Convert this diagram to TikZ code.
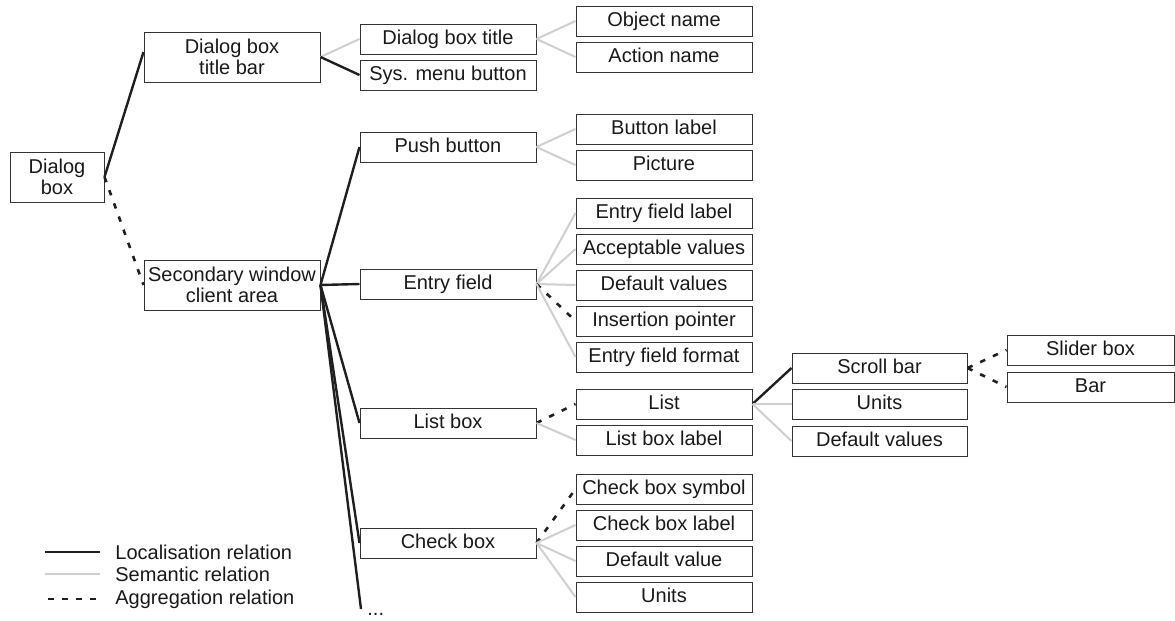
\documentclass[tikz,border=0pt]{standalone}
\usepackage{fontspec}
\setmainfont{Liberation Sans}
\begin{document}
\begin{tikzpicture}[x=0.5pt,y=-0.5pt,
  bigbox/.style={draw=black!80, line width=0.5pt, minimum width=88pt, minimum height=25pt,
    inner sep=0pt, font=\fontsize{10}{10.5}\selectfont, text=black!90, align=center},
  box/.style={draw=black!80, line width=0.5pt, minimum width=88pt, minimum height=15pt,
    inner sep=0pt, font=\fontsize{10}{10.5}\selectfont, text=black!90,
    text height=7.4pt, text depth=1.6pt},
  loc/.style={line width=1.2pt, draw=black!88},
  sem/.style={line width=1pt, draw=black!19},
  agg/.style={line width=1.3pt, draw=black!88, dash pattern=on 2.75pt off 4.25pt},
  lgtext/.style={anchor=west, inner sep=0pt, font=\fontsize{10}{12}\selectfont, text=black!90}]
\useasboundingbox (0,0) rectangle (1175,621);

% first and second levels
\node[bigbox, minimum width=47pt] (db) at (57,177) {Dialog\\box};
\node[bigbox] (tb) at (232,57) {Dialog box\\title bar};
\node[bigbox] (sw) at (232,285) {Secondary window\\client area};

% children of the title bar and of the client area
\node[box] (dbt) at (448,39) {Dialog box title};
\node[box] (sys) at (448,75) {Sys. menu button};
\node[box] (pb)  at (448,147) {Push button};
\node[box] (ef)  at (448,284) {Entry field};
\node[box] (lb)  at (448,423) {List box};
\node[box] (cb)  at (448,543) {Check box};
\coordinate (more) at (361,609);
\node[anchor=north west, inner sep=0pt, font=\fontsize{10}{12}\selectfont, text=black!90] (dots) at (367,613) {...};

% third level
\node[box] (on)  at (664,21)  {Object name};
\node[box] (an)  at (664,57)  {Action name};
\node[box] (bl)  at (664,129) {Button label};
\node[box] (pic) at (664,165) {Picture};
\node[box] (efl) at (664,213) {Entry field label};
\node[box] (av)  at (664,249) {Acceptable values};
\node[box] (dv)  at (664,285) {Default values};
\node[box] (ip)  at (664,321) {Insertion pointer};
\node[box] (eff) at (664,357) {Entry field format};
\node[box] (li)  at (664,404) {List};
\node[box] (lbl) at (664,440) {List box label};
\node[box] (cbs) at (664,489) {Check box symbol};
\node[box] (cbl) at (664,525) {Check box label};
\node[box] (dfv) at (664,561) {Default value};
\node[box] (cun) at (664,597) {Units};

% fourth and fifth levels
\node[box, minimum width=87.5pt] (sb)  at (879.5,368) {Scroll bar};
\node[box, minimum width=87.5pt] (lun) at (879.5,404) {Units};
\node[box, minimum width=87.5pt] (ldv) at (879.5,441) {Default values};
\node[box, minimum width=83.5pt] (sl)  at (1090.5,350) {Slider box};
\node[box, minimum width=83.5pt] (bar) at (1090.5,387) {Bar};

% connectors
\draw[loc] (db.east) -- ([yshift=2.5pt]tb.west);
\draw[agg] (db.east) -- (sw.west);

\draw[sem] (tb.east) -- (dbt.west);
\draw[loc] (tb.east) -- (sys.west);
\draw[sem] (dbt.east) -- (on.west);
\draw[sem] (dbt.east) -- (an.west);

\draw[loc] (sw.east) -- (pb.west);
\draw[loc] (sw.east) -- (ef.west);
\draw[loc] (sw.east) -- (lb.west);
\draw[loc] (sw.east) -- (cb.west);
\draw[loc] (sw.east) -- (more);

\draw[sem] (pb.east) -- (bl.west);
\draw[sem] (pb.east) -- (pic.west);

\draw[sem] (ef.east) -- (efl.west);
\draw[sem] (ef.east) -- (av.west);
\draw[sem] (ef.east) -- (dv.west);
\draw[agg] (ef.east) -- (ip.west);
\draw[sem] (ef.east) -- (eff.west);

\draw[agg] (lb.east) -- (li.west);
\draw[sem] (lb.east) -- (lbl.west);
\draw[loc] (li.east) -- (sb.west);
\draw[sem] (li.east) -- (lun.west);
\draw[sem] (li.east) -- (ldv.west);
\draw[agg] (sb.east) -- (sl.west);
\draw[agg] (sb.east) -- (bar.west);

\draw[agg] (cb.east) -- (cbs.west);
\draw[sem] (cb.east) -- (cbl.west);
\draw[sem] (cb.east) -- (dfv.west);
\draw[sem] (cb.east) -- (cun.west);

% legend
\node[lgtext] (lg1) at (115,552) {Localisation relation};
\node[lgtext] (lg2) at (115,574) {Semantic relation};
\node[lgtext] (lg3) at (115,599) {Aggregation relation};
\draw[loc] (45,552) -- (100,552);
\draw[sem] (45,574) -- (100,574);
\draw[agg] (48,599) -- (100,599);
\end{tikzpicture}
\end{document}
